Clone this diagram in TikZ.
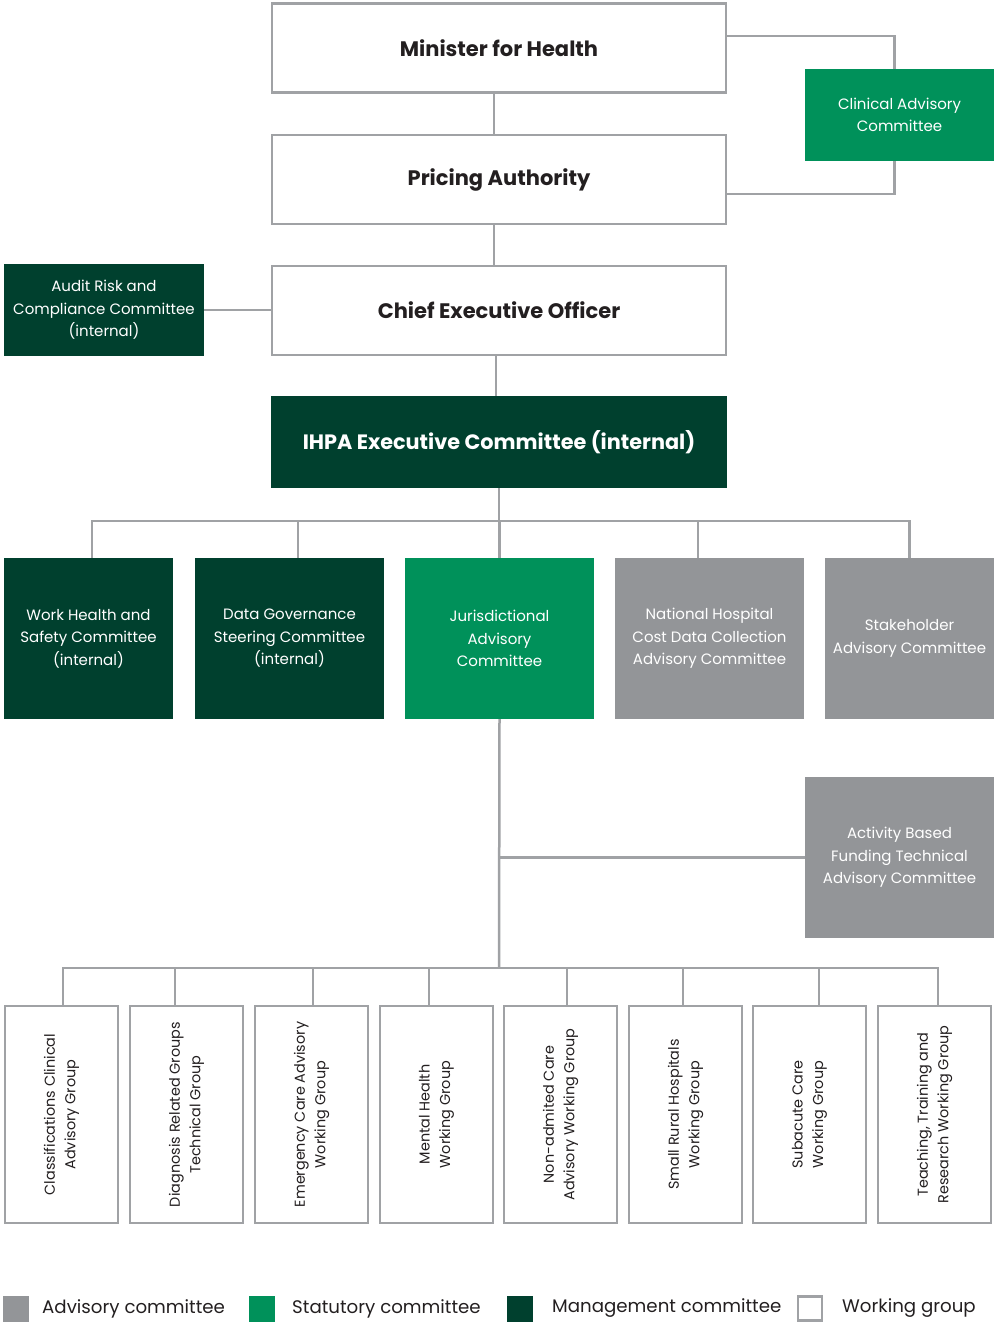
\documentclass[tikz,border=0pt]{standalone}
\usepackage{fontspec}
\setmainfont{Poppins}
\definecolor{agray}{HTML}{939598}
\definecolor{sgreen}{HTML}{00915A}
\definecolor{mgreen}{HTML}{00402E}
\definecolor{lgray}{HTML}{A0A2A5}
\definecolor{tdark}{HTML}{231F20}
\tikzset{
  conn/.style={draw=lgray, line width=2.5pt},
  wbox/.style={draw=lgray, line width=2.5pt, fill=white, text=tdark, align=center, inner sep=0pt},
  title/.style={wbox, minimum width=454pt, minimum height=89pt, font=\bfseries\fontsize{21}{24}\selectfont},
  filled/.style={align=center, inner sep=0pt, text=white, font=\fontsize{15}{22.5}\selectfont},
  mbox/.style={filled, fill=mgreen},
  sbox/.style={filled, fill=sgreen},
  abox/.style={filled, fill=agray},
  vbox/.style={wbox, rotate=90, minimum width=217pt, minimum height=113pt, font=\fontsize{14.4}{20.5}\selectfont},
  legsq/.style={minimum width=26pt, minimum height=26pt, inner sep=0pt},
  legtxt/.style={anchor=west, inner sep=0pt, text=tdark, font=\fontsize{18.2}{20}\selectfont},
}
\begin{document}
\begin{tikzpicture}[x=1pt,y=-1pt]
\useasboundingbox (0,0) rectangle (994,1324);
% top chain
\node[title] (min) at (499,48) {Minister for Health};
\node[title] (pa) at (499,179.5) {Pricing Authority};
\node[title] (ceo) at (499,310.5) {Chief Executive Officer};
\node[mbox, minimum width=456pt, minimum height=92pt, font=\bfseries\fontsize{20.8}{24}\selectfont] (ihpa) at (499,442) {IHPA Executive Committee (internal)};
\node[sbox, minimum width=189pt, minimum height=92pt] (cac) at (899.5,115) {Clinical Advisory\\Committee};
\node[mbox, minimum width=200pt, minimum height=92pt] (arc) at (104,310) {Audit Risk and\\Compliance Committee\\(internal)};
% row of committees
\node[mbox, minimum width=169pt, minimum height=161pt] (whs) at (88.5,638.5) {Work Health and\\Safety Committee\\(internal)};
\node[mbox, minimum width=189pt, minimum height=161pt] (dgs) at (289.5,638.5) {Data Governance\\Steering Committee\\(internal)};
\node[sbox, minimum width=189pt, minimum height=161pt] (jac) at (499.5,638.5) {Jurisdictional\\Advisory\\Committee};
\node[abox, minimum width=189pt, minimum height=161pt] (nhc) at (709.5,638.5) {National Hospital\\Cost Data Collection\\Advisory Committee};
\node[abox, minimum width=169pt, minimum height=161pt] (sac) at (909.5,638.5) {Stakeholder\\Advisory Committee};
\node[abox, minimum width=189pt, minimum height=161pt] (abf) at (899.5,857.5) {Activity Based\\Funding Technical\\Advisory Committee};
% working groups
\node[vbox] (w1) at (61.5,1114.5) {Classifications Clinical\\Advisory Group};
\node[vbox] (w2) at (186.5,1114.5) {Diagnosis Related Groups\\Technical Group};
\node[vbox] (w3) at (311.5,1114.5) {Emergency Care Advisory\\Working Group};
\node[vbox] (w4) at (436.5,1114.5) {Mental Health\\Working Group};
\node[vbox] (w5) at (560.5,1114.5) {Non-admited Care\\Advisory Working Group};
\node[vbox] (w6) at (685.5,1114.5) {Small Rural Hospitals\\Working Group};
\node[vbox] (w7) at (809.5,1114.5) {Subacute Care\\Working Group};
\node[vbox] (w8) at (934.5,1114.5) {Teaching, Training and\\Research Working Group};
% bus coordinates
\coordinate (bus) at (499,521);
\coordinate (bus2) at (499,968);
% connectors
\draw[conn] ([xshift=-5pt]min.south) -- ([xshift=-5pt]pa.north);
\draw[conn] ([xshift=-5pt]pa.south) -- ([xshift=-5pt]ceo.north);
\draw[conn] ([xshift=-3pt]ceo.south) -- ([xshift=-3pt]ihpa.north);
\draw[conn] ([yshift=12pt]min.east) -| ([xshift=-5pt]cac.north);
\draw[conn] ([yshift=-14.5pt]pa.east) -| ([xshift=-5pt]cac.south);
\draw[conn] (arc.east) -- (ceo.west |- arc.east);
\draw[conn] (ihpa.south) -- (bus);
\draw[conn] ([xshift=3.5pt]whs.north) -- ([xshift=3.5pt]whs.north |- bus) -- (sac.north |- bus) -- (sac.north);
\draw[conn] ([xshift=8.5pt]dgs.north) -- ([xshift=8.5pt]dgs.north |- bus);
\draw[conn] (jac.north) -- (jac.north |- bus);
\draw[conn] ([xshift=-11.5pt]nhc.north) -- ([xshift=-11.5pt]nhc.north |- bus);
\draw[conn] (jac.south) -- (bus2);
\draw[conn] (abf.west) -- (abf.west -| jac.south);
\draw[conn] ([xshift=1.5pt]w1.east) -- ([xshift=1.5pt]w1.east |- bus2) -- ([xshift=3.5pt]w8.east |- bus2) -- ([xshift=3.5pt]w8.east);
\foreach \w/\d in {w2/-11.5, w3/1.5, w4/-7.5, w5/6.5, w6/-2.5, w7/9.5} {
  \draw[conn] ([xshift=\d pt]\w.east) -- ([xshift=\d pt]\w.east |- bus2);
}
% legend
\node[legsq, fill=agray] (l1) at (16,1308.5) {};
\node[legtxt] (t1) at (42,1308.5) {Advisory committee};
\node[legsq, fill=sgreen] (l2) at (261.5,1308.5) {};
\node[legtxt] (t2) at (292,1308.5) {Statutory committee};
\node[legsq, fill=mgreen] (l3) at (519.5,1308.5) {};
\node[legtxt] (t3) at (552,1308.5) {Management committee};
\node[legsq, draw=lgray, line width=2.5pt, fill=white, minimum width=24pt, minimum height=24pt] (l4) at (810,1308.5) {};
\node[legtxt] (t4) at (842,1308.5) {Working group};
\end{tikzpicture}
\end{document}
